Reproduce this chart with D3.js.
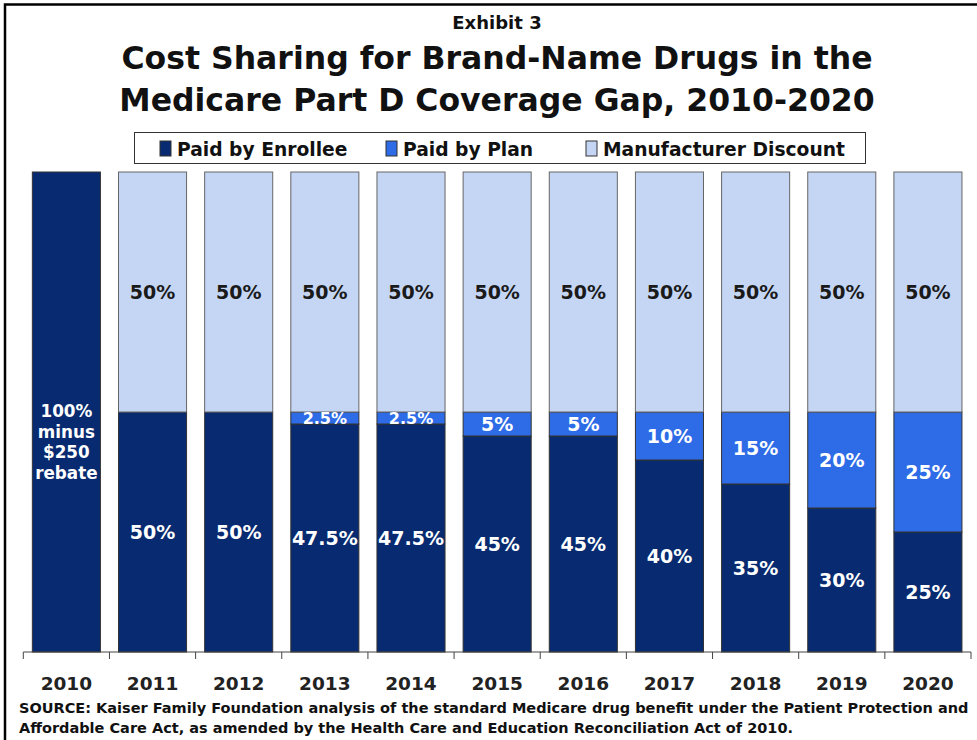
<!DOCTYPE html>
<html><head><meta charset="utf-8">
<script src="https://cdn.jsdelivr.net/npm/d3@7"></script>
<style>body{margin:0;background:#fff}svg{display:block}text{font-family:"DejaVu Sans",Verdana,sans-serif;font-weight:bold}</style>
</head><body>
<script>
const years = ["2010","2011","2012","2013","2014","2015","2016","2017","2018","2019","2020"];
const enrollee = [100,50,50,47.5,47.5,45,45,40,35,30,25];
const plan = [0,0,0,2.5,2.5,5,5,10,15,20,25];
const manufacturer = [0,50,50,50,50,50,50,50,50,50,50];
const enrolleeLabels = [null,"50%","50%","47.5%","47.5%","45%","45%","40%","35%","30%","25%"];
const planLabels = [null,null,null,"2.5%","2.5%","5%","5%","10%","15%","20%","25%"];
const manufLabels = [null,"50%","50%","50%","50%","50%","50%","50%","50%","50%","50%"];
const rebateLabel = ["100%","minus","$250","rebate"];
const seriesNames = ["Paid by Enrollee","Paid by Plan","Manufacturer Discount"];
const colors = ["#072A70","#2E6BE6","#C5D6F5"];
const titleLines = ["Cost Sharing for Brand-Name Drugs in the","Medicare Part D Coverage Gap, 2010-2020"];
const sourceLines = ["SOURCE:  Kaiser Family Foundation analysis of the standard Medicare drug benefit under the Patient Protection and","Affordable Care Act, as amended by the Health Care and Education Reconciliation Act of 2010."];

const W=977,H=740;
const svg=d3.select("body").append("svg").attr("width",W).attr("height",H);
svg.append("path").attr("d","M5,740 V4.5 H977").attr("fill","none").attr("stroke","#000").attr("stroke-width",2.5);

svg.append("text").attr("x",497).attr("y",29).attr("text-anchor","middle").attr("font-size",18).attr("fill","#111").text("Exhibit 3");
svg.selectAll(".t").data(titleLines).enter().append("text").attr("x",497).attr("y",(d,i)=>69+i*42)
  .attr("text-anchor","middle").attr("font-size",31.5).attr("fill","#111").text(d=>d);

const x=d3.scaleBand().domain(years).range([23.3,971]).paddingInner(0.21).paddingOuter(0.105);
const y=d3.scaleLinear().domain([0,100]).range([652,172]);

const rows=years.map((yr,i)=>({yr,vals:[enrollee[i],plan[i],manufacturer[i]]}));
const stack=d3.stack().keys([0,1,2]).value((d,k)=>d.vals[k]);
const layers=stack(rows);

layers.forEach((layer,k)=>{
  svg.append("g").selectAll("rect").data(layer.filter(d=>d[1]-d[0]>0)).enter().append("rect")
    .attr("x",d=>x(d.data.yr)).attr("width",x.bandwidth())
    .attr("y",d=>y(d[1])).attr("height",d=>y(d[0])-y(d[1]))
    .attr("fill",colors[k]).attr("stroke",k===2?"#666":"#333").attr("stroke-width",1);
});

const ax=svg.append("g").attr("transform","translate(0,652)");
ax.append("line").attr("x1",23.3).attr("x2",971).attr("stroke","#444");
d3.range(12).forEach(i=>{
  const tx=23.3+i*(971-23.3)/11;
  ax.append("line").attr("x1",tx).attr("x2",tx).attr("y1",0).attr("y2",7).attr("stroke","#444");
});
svg.selectAll(".xl").data(years).enter().append("text").attr("x",d=>x(d)+x.bandwidth()/2).attr("y",690)
  .attr("text-anchor","middle").attr("font-size",18.5).attr("fill","#222").text(d=>d);

const lbl=(arr,k,fs)=>{
  svg.append("g").selectAll("text").data(layers[k].map((d,i)=>({d,l:arr[i]})).filter(o=>o.l)).enter().append("text")
    .attr("x",o=>x(o.d.data.yr)+x.bandwidth()/2).attr("y",o=>(y(o.d[0])+y(o.d[1]))/2)
    .attr("dy","0.36em").attr("text-anchor","middle").attr("font-size",o=>o.l==="2.5%"?16:fs)
    .attr("fill",k===2?"#1a1a1a":"#fff").text(o=>o.l);
};
lbl(enrolleeLabels,0,19);
lbl(planLabels,1,19);
lbl(manufLabels,2,19);
svg.selectAll(".rb").data(rebateLabel).enter().append("text").attr("x",x("2010")+x.bandwidth()/2)
  .attr("y",(d,i)=>417+i*20.5).attr("text-anchor","middle").attr("font-size",16.8).attr("fill","#fff").text(d=>d);

const lg=svg.append("g");
lg.append("rect").attr("x",134.5).attr("y",132.5).attr("width",731).attr("height",31).attr("fill","#fff").attr("stroke","#333");
const lx=[160,386,586];
seriesNames.forEach((n,i)=>{
  lg.append("rect").attr("x",lx[i]).attr("y",141).attr("width",11).attr("height",15).attr("fill",colors[i]).attr("stroke","#333");
  lg.append("text").attr("x",lx[i]+17).attr("y",155.5).attr("font-size",18.7).attr("fill","#111").text(n);
});

svg.selectAll(".src").data(sourceLines).enter().append("text").attr("x",19).attr("y",(d,i)=>713+i*20)
  .attr("font-size",14.5).attr("fill","#111").text(d=>d);
</script>
</body></html>
